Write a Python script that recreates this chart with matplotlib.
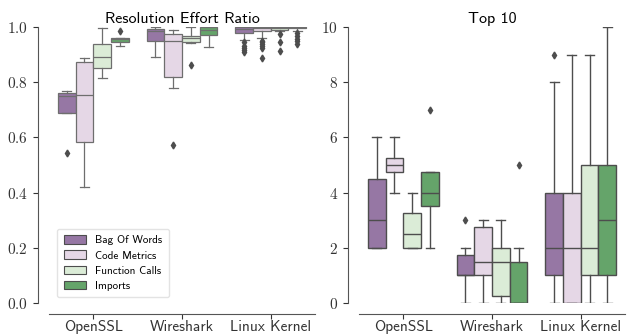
import matplotlib
matplotlib.use('Agg')
import matplotlib.pyplot as plt
from matplotlib.patches import Patch
from matplotlib.ticker import FuncFormatter
import seaborn as sns

plt.rcParams['mathtext.fontset'] = 'cm'
plt.rcParams['font.family'] = ['cmss10', 'DejaVu Sans']
plt.rcParams['axes.unicode_minus'] = False

projects = ['OpenSSL', 'Wireshark', 'Linux Kernel']
methods = ['Bag Of Words', 'Code Metrics', 'Function Calls', 'Imports']

# resolution effort ratio: box stats per project, per method
# (whislo, q1, med, q3, whishi)
ratio_whislo = [[0.689, 0.419, 0.814, 0.931],
                [0.891, 0.780, 0.943, 0.928],
                [0.952, 0.961, 0.985, 0.985]]
ratio_q1 = [[0.689, 0.585, 0.853, 0.947],
            [0.949, 0.819, 0.946, 0.970],
            [0.978, 0.985, 0.990, 0.995]]
ratio_med = [[0.750, 0.754, 0.893, 0.955],
             [0.985, 0.949, 0.959, 0.989],
             [0.994, 0.997, 0.998, 0.999]]
ratio_q3 = [[0.760, 0.874, 0.937, 0.960],
            [0.994, 0.973, 0.967, 1.000],
            [1.000, 1.000, 1.000, 1.000]]
ratio_whishi = [[0.767, 0.889, 0.995, 0.960],
                [1.000, 0.988, 1.000, 1.000],
                [1.000, 1.000, 1.000, 1.000]]
ratio_fliers = [[[0.545], [], [], [0.985]],
                [[], [0.573], [0.861], []],
                [[0.945, 0.932, 0.924, 0.917, 0.911],
                 [0.951, 0.944, 0.937, 0.930, 0.923, 0.886],
                 [0.973, 0.946, 0.913],
                 [0.977, 0.968, 0.958, 0.948, 0.938]]]

# top 10
top_whislo = [[2, 4, 2, 2], [0, 0, 0, 0], [0, 0, 0, 0]]
top_q1 = [[2, 4.75, 2, 3.5], [1, 1, 0.25, 0], [1, 0, 1, 1]]
top_med = [[3, 5, 2.5, 4], [1, 1.5, 1.5, 0], [2, 2, 2, 3]]
top_q3 = [[4.5, 5.25, 3.25, 4.75], [1.75, 2.75, 2, 1.5], [4, 4, 5, 5]]
top_whishi = [[6, 6, 4, 4.75], [2, 3, 3, 2], [8, 9, 9, 10]]
top_fliers = [[[], [], [], [7]], [[3], [], [], [5]], [[9], [], [], []]]

colors = sns.color_palette('PRGn', 4, desat=0.75)
gray = '#4d4d4d'


def draw(ax, whislo, q1, med, q3, whishi, fliers, lw, lc):
    offsets = [-0.3, -0.1, 0.1, 0.3]
    for i in range(len(projects)):
        for j in range(len(methods)):
            st = dict(whislo=whislo[i][j], q1=q1[i][j], med=med[i][j],
                      q3=q3[i][j], whishi=whishi[i][j], fliers=fliers[i][j])
            ax.bxp([st], positions=[i + offsets[j]], widths=0.2,
                   capwidths=0.1, patch_artist=True, manage_ticks=False,
                   boxprops=dict(facecolor=colors[j], edgecolor=lc, linewidth=lw),
                   whiskerprops=dict(color=lc, linewidth=lw),
                   capprops=dict(color=lc, linewidth=lw),
                   medianprops=dict(color=lc, linewidth=lw),
                   flierprops=dict(marker='d', markerfacecolor=gray,
                                   markeredgecolor=gray, markersize=3.5))
    ax.set_xlim(-0.5, 2.5)
    ax.set_xticks(range(len(projects)))
    ax.set_xticklabels(projects, fontsize=10.5)
    for s in ['top', 'right']:
        ax.spines[s].set_visible(False)
    for s in ['left', 'bottom']:
        ax.spines[s].set_position(('outward', 8))
        ax.spines[s].set_color('#555555')
    ax.tick_params(colors='#333333', length=3.5, width=0.8, labelsize=11)
    ax.tick_params(axis='x', pad=0.5)


fig = plt.figure(figsize=(6.29, 3.35), dpi=100)
ax1 = fig.add_axes([49 / 629, 32 / 335, 266 / 629, 276 / 335])
ax2 = fig.add_axes([359 / 629, 32 / 335, 266 / 629, 276 / 335])

draw(ax1, ratio_whislo, ratio_q1, ratio_med, ratio_q3, ratio_whishi, ratio_fliers, 0.9, '#6e6e6e')
ax1.set_ylim(0, 1.0)
ax1.set_yticks([0, 0.2, 0.4, 0.6, 0.8, 1.0])
ax1.yaxis.set_major_formatter(FuncFormatter(lambda v, p: '$%.1f$' % v))
ax1.set_title('Resolution Effort Ratio', fontsize=11.5, pad=3)

draw(ax2, top_whislo, top_q1, top_med, top_q3, top_whishi, top_fliers, 1.0, gray)
ax2.set_ylim(0, 10)
ax2.set_yticks([0, 2, 4, 6, 8, 10])
ax2.yaxis.set_major_formatter(FuncFormatter(lambda v, p: '$%d$' % v))
ax2.set_title('Top 10', fontsize=11.5, pad=3)

handles = [Patch(facecolor=colors[j], edgecolor=gray, linewidth=0.8, label=methods[j])
           for j in range(len(methods))]
ax1.legend(handles=handles, loc='lower left', bbox_to_anchor=(0.01, 0.0),
           fontsize=8, frameon=True, edgecolor='#dddddd', handlelength=2.0,
           handleheight=0.8, labelspacing=0.45, borderpad=0.6)

fig.savefig('out.png', dpi=100)
